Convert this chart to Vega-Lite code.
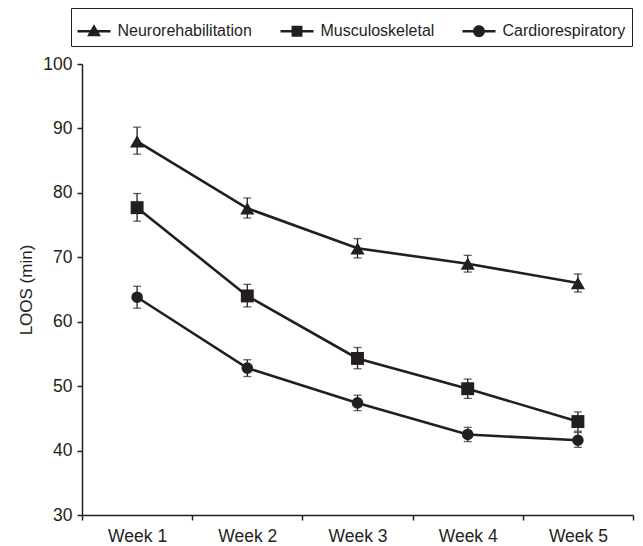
{
  "$schema": "https://vega.github.io/schema/vega-lite/v6.json",
  "width": 551,
  "height": 451,
  "autosize": {"type": "none"},
  "padding": {"left": 82, "top": 64, "right": 10, "bottom": 31},
  "background": "white",
  "config": {
    "view": {"stroke": null},
    "font": "Liberation Sans",
    "axis": {
      "domainColor": "#231f20",
      "tickColor": "#231f20",
      "labelColor": "#231f20",
      "titleColor": "#231f20",
      "domainWidth": 1.5,
      "tickWidth": 1.5,
      "grid": false,
      "labelFontSize": 17.5,
      "titleFontSize": 17,
      "titleFontWeight": "normal"
    }
  },
  "data": {
    "values": [
      {"week": "Week 1", "series": "Neurorehabilitation", "mean": 88.0, "lo": 86.0, "hi": 90.2},
      {"week": "Week 2", "series": "Neurorehabilitation", "mean": 77.6, "lo": 76.1, "hi": 79.2},
      {"week": "Week 3", "series": "Neurorehabilitation", "mean": 71.4, "lo": 69.9, "hi": 72.9},
      {"week": "Week 4", "series": "Neurorehabilitation", "mean": 69.0, "lo": 67.7, "hi": 70.3},
      {"week": "Week 5", "series": "Neurorehabilitation", "mean": 66.0, "lo": 64.6, "hi": 67.4},
      {"week": "Week 1", "series": "Musculoskeletal", "mean": 77.7, "lo": 75.6, "hi": 79.9},
      {"week": "Week 2", "series": "Musculoskeletal", "mean": 64.0, "lo": 62.3, "hi": 65.8},
      {"week": "Week 3", "series": "Musculoskeletal", "mean": 54.3, "lo": 52.7, "hi": 56.0},
      {"week": "Week 4", "series": "Musculoskeletal", "mean": 49.6, "lo": 48.1, "hi": 51.1},
      {"week": "Week 5", "series": "Musculoskeletal", "mean": 44.5, "lo": 43.0, "hi": 46.0},
      {"week": "Week 1", "series": "Cardiorespiratory", "mean": 63.8, "lo": 62.1, "hi": 65.5},
      {"week": "Week 2", "series": "Cardiorespiratory", "mean": 52.8, "lo": 51.5, "hi": 54.1},
      {"week": "Week 3", "series": "Cardiorespiratory", "mean": 47.4, "lo": 46.2, "hi": 48.6},
      {"week": "Week 4", "series": "Cardiorespiratory", "mean": 42.5, "lo": 41.4, "hi": 43.6},
      {"week": "Week 5", "series": "Cardiorespiratory", "mean": 41.6, "lo": 40.5, "hi": 42.8}
    ]
  },
  "encoding": {
    "x": {
      "field": "week",
      "type": "nominal",
      "title": null,
      "scale": {"paddingInner": 0, "paddingOuter": 0},
      "axis": {"labelAngle": 0, "tickBand": "extent", "tickSize": 5, "labelPadding": 7}
    }
  },
  "layer": [
    {
      "mark": {"type": "rule", "color": "#231f20", "strokeWidth": 1.3},
      "encoding": {
        "y": {
          "field": "lo",
          "type": "quantitative",
          "title": "LOOS (min)",
          "scale": {"domain": [30, 100], "nice": false, "zero": false},
          "axis": {"values": [30, 40, 50, 60, 70, 80, 90, 100], "tickSize": 5, "labelPadding": 5, "titlePadding": 7}
        },
        "y2": {"field": "hi"}
      }
    },
    {
      "mark": {"type": "tick", "color": "#231f20", "size": 8, "thickness": 1.3, "orient": "horizontal"},
      "encoding": {"y": {"field": "lo", "type": "quantitative"}}
    },
    {
      "mark": {"type": "tick", "color": "#231f20", "size": 8, "thickness": 1.3, "orient": "horizontal"},
      "encoding": {"y": {"field": "hi", "type": "quantitative"}}
    },
    {
      "mark": {"type": "line", "color": "#231f20", "strokeWidth": 2.6},
      "encoding": {
        "y": {"field": "mean", "type": "quantitative"},
        "detail": {"field": "series"}
      }
    },
    {
      "mark": {"type": "point", "filled": true, "opacity": 1, "color": "#231f20"},
      "encoding": {
        "y": {"field": "mean", "type": "quantitative"},
        "shape": {
          "field": "series",
          "type": "nominal",
          "scale": {
            "domain": ["Neurorehabilitation", "Musculoskeletal", "Cardiorespiratory"],
            "range": ["triangle-up", "square", "circle"]
          },
          "legend": null
        },
        "size": {
          "field": "series",
          "type": "nominal",
          "scale": {
            "domain": ["Neurorehabilitation", "Musculoskeletal", "Cardiorespiratory"],
            "range": [200, 135, 160]
          },
          "legend": null
        }
      }
    },
    {
      "mark": {"type": "point", "filled": true, "opacity": 0, "color": "#231f20", "size": 1089},
      "encoding": {
        "y": {"field": "mean", "type": "quantitative"},
        "shape": {
          "field": "series",
          "type": "nominal",
          "scale": {
            "domain": ["Neurorehabilitation", "Musculoskeletal", "Cardiorespiratory"],
            "range": [
              "M-1,-0.075H1V0.075H-1ZM0,-0.42L0.42,0.3H-0.42Z",
              "M-1,-0.075H1V0.075H-1ZM-0.33,-0.33H0.33V0.33H-0.33Z",
              "M-1,-0.075H1V0.075H-1ZM-0.36,0A0.36,0.36,0,1,1,0.36,0A0.36,0.36,0,1,1,-0.36,0Z"
            ]
          },
          "legend": {
            "title": null,
            "orient": "none",
            "legendX": -11,
            "legendY": -56,
            "direction": "horizontal",
            "columns": 3,
            "columnPadding": 28,
            "symbolSize": 1089,
            "symbolOpacity": 1,
            "symbolFillColor": "#231f20",
            "symbolStrokeColor": "#231f20",
            "symbolStrokeWidth": 0,
            "labelFontSize": 16,
            "labelColor": "#231f20",
            "labelOffset": 7,
            "labelLimit": 300,
            "strokeColor": "#231f20",
            "padding": 6.5,
            "fillColor": "white"
          }
        }
      }
    }
  ],
  "resolve": {"scale": {"shape": "independent", "size": "independent"}}
}
